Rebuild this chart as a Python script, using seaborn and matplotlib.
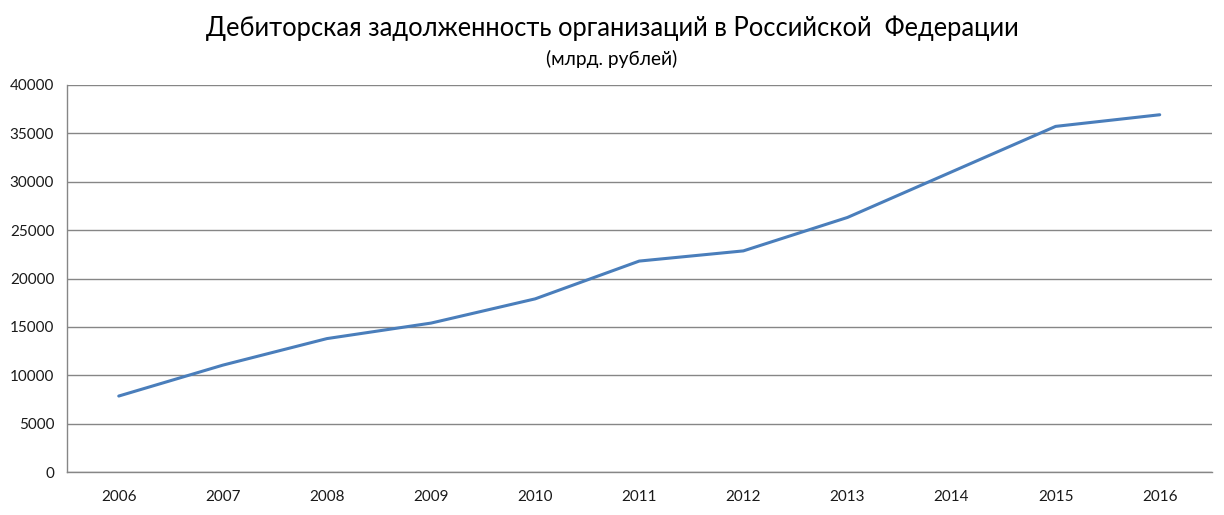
import matplotlib
matplotlib.use("Agg")
import matplotlib.pyplot as plt
import seaborn as sns
import pandas as pd
from matplotlib.ticker import FixedLocator

years = ["2006", "2007", "2008", "2009", "2010", "2011", "2012", "2013", "2014", "2015", "2016"]
values = [7870, 11060, 13800, 15400, 17900, 21800, 22850, 26300, 31000, 35700, 36900]
yticks = [0, 5000, 10000, 15000, 20000, 25000, 30000, 35000, 40000]
title = "Дебиторская задолженность организаций в Российской  Федерации"
subtitle = "(млрд. рублей)"

sns.set_theme(style="white")
plt.rcParams['font.family'] = ['Lato', 'DejaVu Sans']

df = pd.DataFrame({"year": years, "value": values})

fig = plt.figure(figsize=(12.24, 5.15), dpi=100)
ax = fig.add_axes([0.0545, 0.0829, 0.9355, 0.7526])

sns.lineplot(data=df, x="year", y="value", ax=ax, color="#4A7EBB", linewidth=2.2, sort=False)

ax.set_xlim(-0.5, len(years) - 0.5)
ax.set_ylim(0, 40000)
ax.set_yticks(yticks)
ax.set_yticklabels([str(v) for v in yticks], fontsize=11, color="#1a1a1a")
ax.set_xticks(range(len(years)))
ax.set_xticklabels(years, fontsize=11, color="#1a1a1a")
ax.tick_params(axis="x", which="major", length=0, pad=13)
ax.xaxis.set_minor_locator(FixedLocator([i - 0.5 for i in range(len(years) + 1)]))
ax.tick_params(axis="x", which="minor", length=5, width=1, color="#868686", direction="out")
ax.tick_params(axis="y", which="major", length=5, width=1, color="#868686", direction="out", pad=4)
ax.set_xlabel("")
ax.set_ylabel("")

ax.grid(axis="y", color="#868686", linewidth=1)
ax.set_axisbelow(True)
for side in ["top", "right"]:
    ax.spines[side].set_visible(False)
for side in ["left", "bottom"]:
    ax.spines[side].set_color("#868686")
    ax.spines[side].set_linewidth(1)

fig.text(0.5, 0.946, title, ha="center", va="center", fontsize=18.4, color="#000000")
fig.text(0.5, 0.885, subtitle, ha="center", va="center", fontsize=13.8, color="#000000")

fig.savefig("out.png", dpi=100)
